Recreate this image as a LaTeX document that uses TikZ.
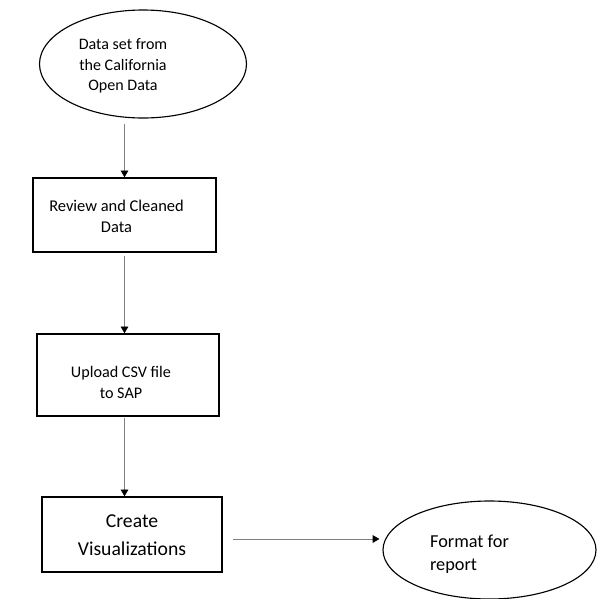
\documentclass[tikz,border=0pt]{standalone}
\usepackage{fontspec}
\setmainfont{Carlito}
\usetikzlibrary{shapes.geometric, arrows.meta}

% text block moved by (dx,dy) from the node centre
\newcommand{\offtext}[4]{%
  \raisebox{#2}[0pt][0pt]{\makebox[0pt]{\hspace*{#1}\hspace*{#1}\begin{tabular}{@{}#3@{}}#4\end{tabular}}}}

\tikzset{
  terminal/.style={ellipse, draw, line width=0.8pt, inner sep=0pt},
  process/.style={rectangle, draw, line width=1pt, inner sep=0pt},
  flow/.style={draw=black!50, line width=0.6pt, -{Triangle[length=4.8pt, width=5.4pt, color=black]}}
}

\begin{document}
\begin{tikzpicture}
    \useasboundingbox (0,0) rectangle (15,-14.975);

    \node[terminal, minimum width=5.175cm, minimum height=2.7cm, font=\fontsize{11.4}{14.4}\selectfont] (data) at (3.575,-1.6)
        {\offtext{-0.5cm}{-0.15cm}{c}{Data set from\\the California\\Open Data}};
    \node[process, minimum width=4.575cm, minimum height=1.85cm, font=\fontsize{11.7}{14.9}\selectfont] (review) at (3.1125,-5.375)
        {\offtext{-0.2cm}{-0.17cm}{c}{Review and Cleaned\\Data}};
    \node[process, minimum width=4.55cm, minimum height=2.05cm, font=\fontsize{11.5}{14.9}\selectfont] (upload) at (3.2,-9.375)
        {\offtext{-0.175cm}{-0.33cm}{c}{Upload CSV file\\to SAP}};
    \node[process, minimum width=4.5cm, minimum height=1.875cm, font=\fontsize{14}{19.9}\selectfont] (create) at (3.3,-13.3625)
        {\offtext{0cm}{-0.15cm}{c}{Create\\Visualizations}};
    \node[terminal, minimum width=5.325cm, minimum height=2.45cm, font=\fontsize{13}{16.4}\selectfont] (report) at (12.2375,-13.75)
        {\offtext{-0.5cm}{-0.22cm}{l}{Format for\\report}};

    \draw[flow, shorten <=0.125cm] (data.south -| review.north) -- (review.north);
    \draw[flow, shorten <=0.075cm] (review.south) -- (review.south |- upload.north);
    \draw[flow, shorten <=0.025cm] (review.south |- upload.south) -- (review.south |- create.north);
    \draw[flow, shorten <=0.25cm, shorten >=0.075cm] ([yshift=-0.1125cm]create.east) -- ([yshift=-0.1125cm]create.east -| report.west);
\end{tikzpicture}
\end{document}
